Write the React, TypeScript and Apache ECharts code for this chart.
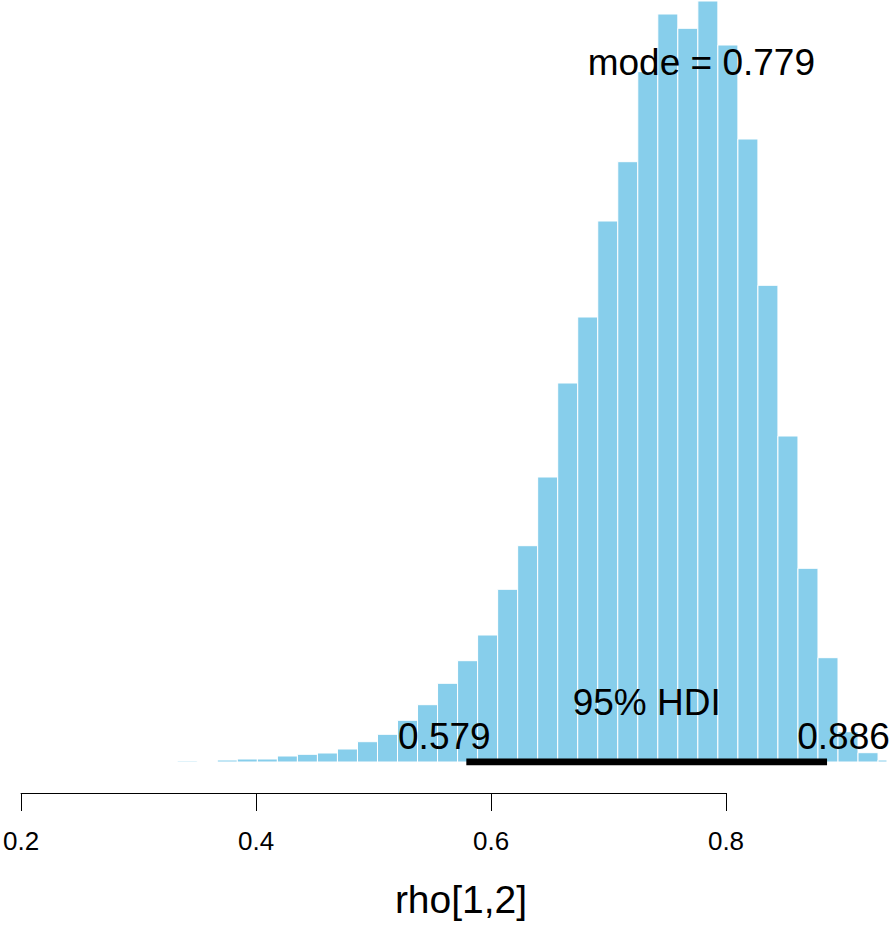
import React, { useEffect, useRef } from "react";
import * as echarts from "echarts";

// Histogram of posterior samples of rho[1,2]
const binStart = 0.333; // minimum sample value (first break)
const binWidth = 0.01704; // histogram bin width
const sampleMax = 0.937; // maximum sample value (last break)
const binHeights = [
  1, 0, 2, 3, 3, 6, 7.7, 9, 13, 20.3, 27.7, 41.7, 57.3, 78.7, 101.3, 127,
  172.7, 216.3, 285, 379, 445, 541, 600.3, 690.3, 748, 733.7, 761, 717, 623,
  476.7, 326, 193.7, 104.3, 30.3, 9.3, 2,
];
const modeValue = 0.779;
const hdiLow = 0.579;
const hdiHigh = 0.886;
const tickValues = [0.2, 0.4, 0.6, 0.8];
const xLabel = "rho[1,2]";

const FONT = "Liberation Sans, Arial, Helvetica, sans-serif";

export default function App() {
  const ref = useRef<HTMLDivElement>(null);
  useEffect(() => {
    if (!ref.current) return;
    const chart = echarts.init(ref.current, null, { renderer: "svg" });
    const bins = binHeights.map((h, i) => {
      const x0 = binStart + i * binWidth;
      const x1 = i === binHeights.length - 1 ? sampleMax : binStart + (i + 1) * binWidth;
      return [x0, x1, h];
    });
    const yMax = 762;
    chart.setOption({
      animation: false,
      backgroundColor: "#ffffff",
      grid: [
        { left: 21, right: 3.5, top: 0, bottom: 926 - 762 },
        { left: 21, width: 705, top: 792, height: 1 },
      ],
      xAxis: [
        { gridIndex: 0, type: "value", min: 0.2, max: 0.94, show: false },
        {
          gridIndex: 1,
          type: "value",
          min: tickValues[0],
          max: tickValues[tickValues.length - 1],
          interval: 0.2,
          position: "bottom",
          axisLine: { show: true, lineStyle: { color: "#000", width: 1 } },
          axisTick: { show: true, inside: false, length: 18, lineStyle: { color: "#000", width: 1 } },
          axisLabel: {
            show: true,
            margin: 35,
            fontSize: 26,
            fontFamily: FONT,
            color: "#000",
            formatter: (v: number) => String(Math.round(v * 10) / 10),
          },
          splitLine: { show: false },
        },
      ],
      yAxis: [
        { gridIndex: 0, type: "value", min: 0, max: yMax, show: false },
        { gridIndex: 1, type: "value", min: 0, max: 1, show: false },
      ],
      series: [
        {
          type: "custom",
          xAxisIndex: 0,
          yAxisIndex: 0,
          data: bins,
          encode: { x: [0, 1], y: 2 },
          renderItem: (params: any, api: any) => {
            const x0 = api.value(0);
            const x1 = api.value(1);
            const h = api.value(2);
            const p0 = api.coord([x0, h]);
            const p1 = api.coord([x1, 0]);
            return {
              type: "rect",
              shape: { x: p0[0], y: p0[1], width: p1[0] - p0[0], height: p1[1] - p0[1] },
              style: { fill: "#87CEEB", stroke: "#ffffff", lineWidth: 1 },
            };
          },
          z: 1,
        },
        {
          type: "line",
          xAxisIndex: 0,
          yAxisIndex: 0,
          data: [
            [hdiLow, 0],
            [hdiHigh, 0],
          ],
          symbol: "none",
          lineStyle: { color: "#000", width: 7, cap: "butt" },
          z: 3,
        },
      ],
    });

    const px = (v: number) => chart.convertToPixel({ gridIndex: 0 }, [v, 0])[0];
    const textW = 92.5;
    chart.setOption({
      graphic: [
        {
          type: "text",
          x: px(modeValue),
          y: 62,
          z: 10,
          style: {
            text: "mode = " + modeValue.toFixed(3),
            font: `37px ${FONT}`,
            fill: "#000",
            align: "center",
            verticalAlign: "middle",
          },
        },
        {
          type: "text",
          x: px((hdiLow + hdiHigh) / 2),
          y: 702,
          z: 10,
          style: {
            text: "95% HDI",
            font: `37px ${FONT}`,
            fill: "#000",
            align: "center",
            verticalAlign: "middle",
          },
        },
        {
          type: "text",
          x: px(hdiLow) - 0.2 * textW - 3.5,
          y: 736.3,
          z: 10,
          style: {
            text: hdiLow.toFixed(3),
            font: `37px ${FONT}`,
            fill: "#000",
            align: "center",
            verticalAlign: "middle",
          },
        },
        {
          type: "text",
          x: px(hdiHigh) + 0.2 * textW - 2,
          y: 736.3,
          z: 10,
          style: {
            text: hdiHigh.toFixed(3),
            font: `37px ${FONT}`,
            fill: "#000",
            align: "center",
            verticalAlign: "middle",
          },
        },
        {
          type: "text",
          x: 461,
          y: 899.4,
          z: 10,
          style: {
            text: xLabel,
            font: `39px ${FONT}`,
            fill: "#000",
            align: "center",
            verticalAlign: "middle",
          },
        },
      ],
    });

    return () => chart.dispose();
  }, []);
  return (
    <div
      ref={ref}
      style={{ position: "fixed", left: 0, top: 0, width: 894, height: 926, background: "#fff" }}
    />
  );
}
